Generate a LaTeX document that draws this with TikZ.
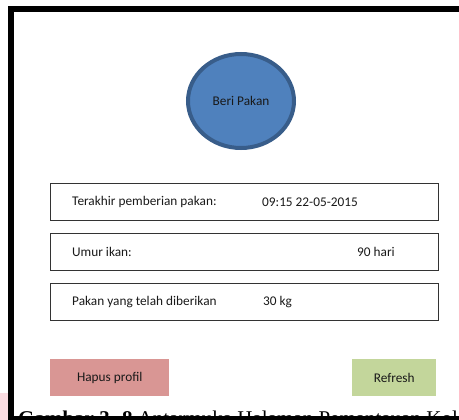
\documentclass[tikz,border=0pt]{standalone}
\usepackage{fontspec}
\setmainfont{Carlito}
\newfontfamily\captionfont{Liberation Serif}
\usetikzlibrary{positioning, shapes.geometric}

\definecolor{pakanfill}{HTML}{4F81BD}
\definecolor{pakanedge}{HTML}{385D8A}
\definecolor{hapusred}{HTML}{D99694}
\definecolor{refreshgreen}{HTML}{C3D69B}
\definecolor{sidepink}{HTML}{FADCE1}

\begin{document}
\begin{tikzpicture}[x=1pt, y=-1pt, node distance=12pt,
    font=\fontsize{13.3}{15}\selectfont, text=black!90,
    rowbox/.style={draw=black!80, line width=1.1pt, rectangle, minimum width=388pt, minimum height=37pt, inner sep=0pt},
    button/.style={rectangle, minimum height=37pt, inner sep=0pt},
    label/.style={anchor=west, inner sep=0pt}]
    \useasboundingbox (0,0) rectangle (459,420);
    \clip (0,0) rectangle (459,420);

    % page around the mockup
    \fill[sidepink] (0,393) rectangle (8,420);
    \draw[line width=5.5pt] (11,9) rectangle (480,419);

    % feed button
    \node[draw=pakanedge, fill=pakanfill, line width=4pt, ellipse, minimum width=106pt, minimum height=94pt] (feed) at (241,101) {Beri Pakan};

    % info rows
    \node[rowbox, anchor=north west] (last) at (50,183) {};
    \node[rowbox, below=of last] (age) {};
    \node[rowbox, below=of age] (total) {};

    \node[label] (lastlabel) at ([xshift=22pt]last.west) {Terakhir pemberian pakan:};
    \node[label] (lastvalue) at (262,0 |- last) {09:15 22-05-2015};
    \node[label] (agelabel) at ([xshift=22pt]age.west) {Umur ikan:};
    \node[label] (agevalue) at (357,0 |- age) {90 hari};
    \node[label] (totallabel) at ([xshift=22pt]total.west) {Pakan yang telah diberikan};
    \node[label] (totalvalue) at (263,0 |- total) {30 kg};

    % buttons
    \node[button, fill=hapusred, minimum width=119pt, anchor=north west] (hapus) at (50,359) {Hapus profil};
    \node[button, fill=refreshgreen, minimum width=84pt, anchor=north west] (refresh) at (352,359) {Refresh};

    % caption of the figure
    \node[anchor=base west, inner sep=0pt, text=black, font=\captionfont\fontsize{21}{25}\selectfont] (caption) at (18,425) {\textbf{Gambar 3. 8} Antarmuka Halaman Pemantauan Kolam};
\end{tikzpicture}
\end{document}
